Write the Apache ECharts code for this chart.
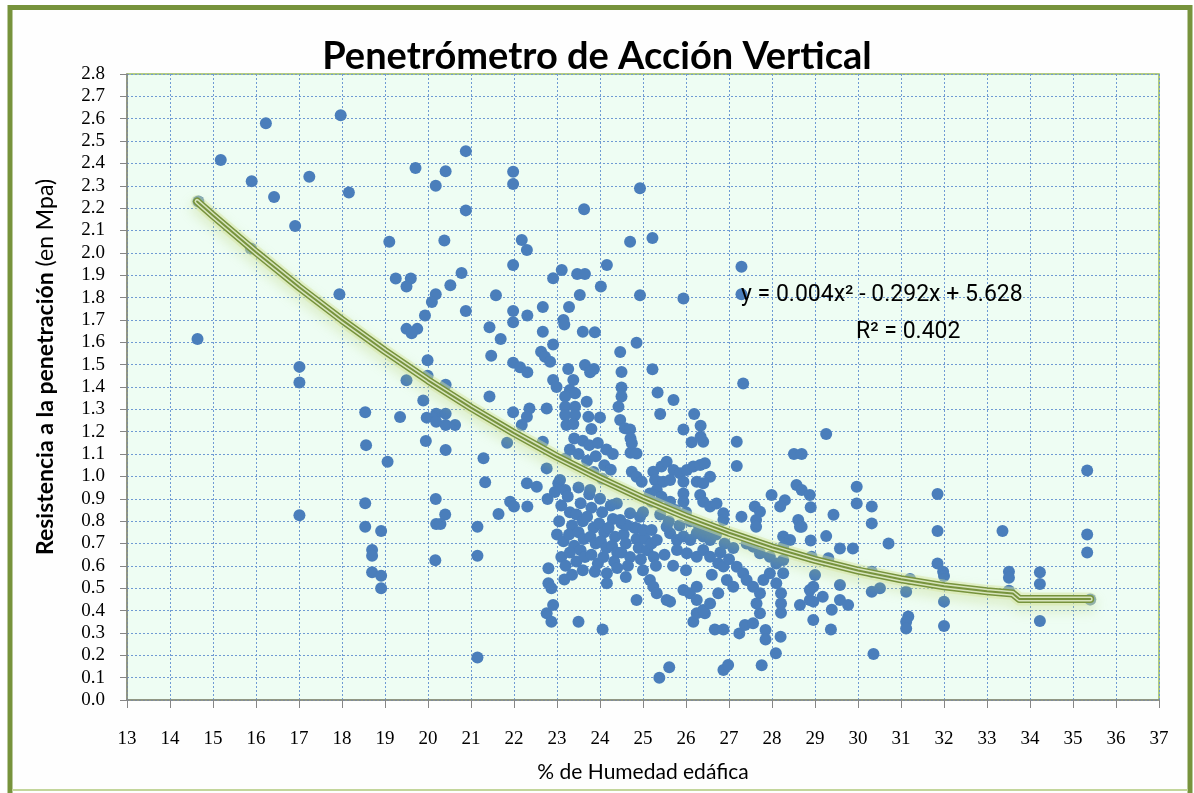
<!DOCTYPE html>
<html>
<head>
<meta charset="utf-8">
<script src="https://cdn.jsdelivr.net/npm/echarts@6/dist/echarts.min.js"></script>
<style>
  html, body { margin: 0; padding: 0; background: #fff; }
  #chart { width: 1194px; height: 793px; }
</style>
</head>
<body>
<div id="chart"></div>
<script>
// Datos: [% humedad, resistencia MPa]
const puntosIzquierda = [
  [16.23,2.58],[17.97,2.615],[15.18,2.415],[15.9,2.32],[17.24,2.34],[16.42,2.25],[18.16,2.27],
  [14.66,2.23],[16.91,2.12],[15.88,2.02],[19.1,2.05],[20.38,2.055],[20.88,2.455],[19.71,2.38],
  [20.41,2.365],[20.18,2.30],[20.88,2.19],[17.94,1.815],[19.25,1.885],[19.6,1.885],[19.5,1.85],
  [20.78,1.91],[20.52,1.855],[20.18,1.815],[20.09,1.78],[19.93,1.72],[19.5,1.66],[19.75,1.66],
  [19.62,1.64],[20.88,1.74],[14.64,1.615],[17.01,1.49],[17.01,1.42],[19.99,1.52],[19.99,1.45],
  [19.5,1.43],[20.41,1.41],[19.89,1.34],[18.54,1.287],[19.35,1.266],[19.97,1.263],[20.19,1.28],
  [20.19,1.245],[20.41,1.28],[20.41,1.23],[20.63,1.23],[19.95,1.158],[20.41,1.118],[18.56,1.14],
  [19.06,1.066],[20.18,0.899],[18.54,0.88],[17.01,0.826],[20.4,0.83],[20.19,0.787],[20.29,0.787],
  [18.54,0.775],[18.91,0.756],[21.15,0.775],[18.7,0.671],[18.7,0.645],[20.17,0.625],[21.15,0.645],
  [18.7,0.571],[18.91,0.556],[18.91,0.50],[21.15,0.19]
];

const puntosCentroAlto = [
  [21.98,2.363],[21.98,2.308],[24.93,2.289],[23.63,2.195],[22.18,2.057],[22.3,2.013],[24.7,2.05],
  [25.22,2.066],[21.98,1.946],[23.11,1.923],[22.91,1.886],[23.47,1.905],[23.65,1.905],[24.16,1.946],
  [24.02,1.849],[23.53,1.812],[24.93,1.81],[25.94,1.796],[27.29,1.938],[27.29,1.815],[21.58,1.81],
  [21.98,1.74],[21.98,1.69],[22.31,1.72],[22.67,1.758],[23.28,1.758],[23.15,1.70],[23.17,1.68],
  [21.43,1.667],[21.69,1.615],[22.67,1.647],[23.6,1.647],[23.88,1.645],[22.91,1.59],[24.85,1.598],
  [21.47,1.54],[22.63,1.558],[22.72,1.535],[22.84,1.513],[21.98,1.509],[22.14,1.488],[22.31,1.466],
  [24.47,1.557],[23.26,1.48],[23.65,1.498],[23.86,1.48],[23.77,1.466],[24.5,1.467],[25.22,1.479],
  [22.91,1.431],[22.99,1.40],[23.38,1.431],[23.3,1.387],[23.19,1.357],[23.42,1.372],[24.5,1.398],
  [24.5,1.357],[24.43,1.312],[25.34,1.375],[25.71,1.342],[27.33,1.416],[21.43,1.357],[23.69,1.334],
  [23.19,1.312],[23.42,1.312],[23.19,1.275],[23.42,1.275],[22.36,1.304],[22.3,1.267],[22.76,1.304],
  [21.98,1.287],[23.73,1.267],[24.0,1.264],[25.4,1.279],[26.19,1.279],[24.47,1.252],[24.58,1.215],
  [24.7,1.21],[22.18,1.23],[23.22,1.23],[23.38,1.235],[23.8,1.212],[25.94,1.21],[26.34,1.227],
  [22.67,1.155],[21.84,1.151],[21.29,1.081],[24.71,1.17],[24.71,1.106],[26.13,1.153],[26.4,1.155],
  [26.34,1.178],[27.18,1.155],[27.18,1.047],[28.51,1.10],[28.69,1.10],[22.76,1.036],
  [23.4,1.17],[23.6,1.16],[23.75,1.14],[23.95,1.15],[24.15,1.12],[24.3,1.10],[23.5,1.10],
  [23.7,1.07],[23.9,1.09],[24.1,1.05],[24.25,1.03],[23.85,1.02],[24.05,0.99],[23.3,1.12],[23.2,1.08]
];

const puntosNucleo = [
  [24.74,1.148],[24.85,1.103],[24.74,1.021],[24.85,0.999],[24.97,0.976],
  [25.24,1.021],[25.43,1.044],[25.55,1.066],[25.71,1.029],[25.86,1.014],[26.02,1.029],[26.17,1.044],
  [26.33,1.051],[26.44,1.059],[26.56,0.999],[25.28,0.984],[25.47,0.976],[25.63,0.984],[25.94,0.976],
  [26.25,0.976],[26.4,0.969],[23.07,0.984],[23.77,0.939],[24.39,0.879],
  [25.16,0.924],[25.32,0.939],[25.43,0.909],[25.2,0.887],[25.63,0.887],[25.94,0.924],[25.94,0.887],
  [26.33,0.917],[26.4,0.887],[26.56,0.865],[26.71,0.879],[26.87,0.835],[26.87,0.805],[27.29,0.82],
  [27.6,0.865],[27.72,0.842],[27.63,0.805],[27.63,0.775],[27.99,0.917],[28.3,0.894],[28.19,0.865],
  [28.57,0.962],[28.61,0.805],[28.65,0.775],
  [21.33,0.974],[21.64,0.832],[21.91,0.887],[22.0,0.865],[22.31,0.865],[22.3,0.969],[22.53,0.954],
  [22.78,0.899],[23.03,0.969],[23.19,0.939],
  [22.8,0.589],[22.8,0.522],[22.87,0.50],[23.17,0.539],[22.76,0.388],[22.87,0.35],[22.91,0.425],
  [23.5,0.35],[24.06,0.315],[24.85,0.447],
  [25.38,0.10],[25.61,0.146],[26.87,0.134],[26.98,0.157],[27.76,0.155],[28.09,0.209],[28.2,0.283],
  [27.85,0.313],[27.85,0.271],[27.24,0.298],[27.37,0.335],[27.56,0.343],[26.67,0.315],[26.87,0.315],
  [26.17,0.35],[26.25,0.388],[26.44,0.388],[28.21,0.39],[28.21,0.432],[28.21,0.477],[27.72,0.388],
  [28.65,0.425],[28.88,0.447],
  [23.88,0.574],[24.16,0.567],[24.16,0.522],[25.16,0.537],[25.24,0.507],[25.32,0.477],[25.55,0.447],
  [25.63,0.44],[25.94,0.492],[26.09,0.477],[26.25,0.507],[26.25,0.447],[26.4,0.403],[26.56,0.432],
  [26.75,0.477],[26.95,0.537],[27.1,0.507],[27.18,0.596],[27.33,0.567],[27.41,0.537],[27.56,0.507],
  [27.72,0.477],[27.64,0.432],[27.8,0.537],[27.95,0.567],[28.1,0.522],
  [27.41,0.70],[27.56,0.686],[27.72,0.656],[27.95,0.641],[28.1,0.611],
  [28.26,0.731],[28.42,0.716],[28.26,0.686],[28.26,0.626],[28.26,0.567],
  // masa densa 23-25.3
  [22.95,0.93],[23.1,0.87],[23.05,0.80],[23.0,0.74],[23.15,0.71],[23.1,0.64],[23.2,0.60],
  [23.25,0.91],[23.3,0.84],[23.35,0.78],[23.28,0.74],[23.4,0.69],[23.3,0.66],[23.45,0.62],
  [23.5,0.95],[23.55,0.88],[23.45,0.83],[23.6,0.80],[23.5,0.75],[23.62,0.72],[23.55,0.67],[23.65,0.64],
  [23.75,0.92],[23.8,0.86],[23.7,0.82],[23.85,0.77],[23.78,0.73],[23.9,0.70],[23.8,0.65],[23.95,0.61],
  [24.0,0.90],[24.05,0.84],[23.98,0.79],[24.1,0.75],[24.02,0.71],[24.15,0.68],[24.08,0.64],
  [24.25,0.87],[24.3,0.81],[24.2,0.77],[24.35,0.73],[24.28,0.69],[24.4,0.66],[24.33,0.62],
  [24.5,0.79],[24.55,0.74],[24.6,0.70],[24.5,0.66],[24.7,0.64],[24.65,0.60],
  [24.8,0.77],[24.85,0.72],[24.9,0.68],[24.95,0.63],[25.05,0.72],[25.1,0.67],[25.2,0.70],[25.25,0.64],
  [23.35,0.56],[23.6,0.58],[24.4,0.59],[24.6,0.55],[25.0,0.58],[25.3,0.60],
  [24.62,0.783],[24.85,0.768],[25.01,0.76],[25.2,0.76],[24.7,0.835],[24.93,0.82],[24.47,0.805],
  // bajo la tendencia 25.5-27
  [25.63,0.746],[25.79,0.716],[25.94,0.731],[26.1,0.716],[26.25,0.746],[26.4,0.731],[26.56,0.716],
  [25.79,0.671],[26.02,0.656],[26.25,0.641],[26.4,0.671],[26.56,0.641],[26.75,0.612],[26.87,0.597],
  [25.55,0.775],[25.32,0.716],[25.5,0.65],[25.7,0.60],[26.0,0.58],[26.6,0.56],
  [25.0,0.84],[25.4,0.83],[25.6,0.80],[25.85,0.78],[26.1,0.80],[26.3,0.78],[26.0,0.84],[25.75,0.85],
  [26.5,0.76],[26.7,0.74],[26.9,0.70],[27.1,0.68],[27.0,0.63],[26.8,0.66]
];

const puntosDerecha = [
  [29.26,1.19],[28.69,0.939],[28.88,0.917],[28.9,0.862],[28.69,0.775],[29.26,0.733],[29.43,0.829],
  [28.9,0.713],[29.58,0.678],[29.88,0.678],[29.97,0.954],[29.97,0.879],[30.32,0.865],[30.32,0.79],
  [30.71,0.70],[28.92,0.641],[29.31,0.634],[29.0,0.559],[28.96,0.507],[28.88,0.492],[29.58,0.514],
  [28.96,0.44],[29.18,0.462],[29.58,0.447],[29.77,0.425],[29.39,0.404],[28.96,0.358],[29.37,0.315],
  [30.32,0.574],[30.32,0.484],[30.51,0.50],[30.36,0.206],[31.21,0.541],[31.12,0.484],[31.17,0.373],
  [31.12,0.35],[31.12,0.32],[31.85,0.921],[31.85,0.756],[31.85,0.611],[31.98,0.574],[32.0,0.555],
  [32.0,0.44],[32.0,0.331],[33.36,0.756],[33.51,0.574],[33.51,0.547],[33.51,0.489],[34.23,0.571],
  [34.23,0.519],[34.23,0.353],[35.33,1.026],[35.33,0.74],[35.33,0.66],[35.4,0.45]
];

// Línea de tendencia polinómica
const tendenciaX = [14.63,15,16,17,18,19,20,21,22,23,24,25,26,27,28,29,30,31,32,33,33.6,33.75,35.4];
const tendenciaY = [2.23,2.167,2.003,1.847,1.700,1.561,1.430,1.308,1.194,1.088,0.991,0.901,0.820,0.748,0.683,0.627,0.579,0.540,0.509,0.486,0.476,0.452,0.452];

const ecuacion = 'y = 0.004x² - 0.292x + 5.628';
const r2 = 'R² = 0.402';

const puntos = puntosIzquierda.concat(puntosCentroAlto, puntosNucleo, puntosDerecha);
const tendencia = tendenciaX.map((x, i) => [x, tendenciaY[i]]);

const chart = echarts.init(document.getElementById('chart'));

const olive = '#77933C';
const pale = '#D7E4BD';

function trendLayer(width, color, extra) {
  return {
    type: 'line',
    data: tendencia,
    symbol: 'none',
    smooth: false,
    silent: true,
    lineStyle: Object.assign({ width: width, color: color, cap: 'round', join: 'round' }, extra || {})
  };
}

chart.setOption({
  animation: false,
  backgroundColor: '#fff',
  title: {
    text: 'Penetrómetro de Acción Vertical',
    left: 'center',
    top: 33,
    textStyle: { fontFamily: 'Lato', fontWeight: 'bold', fontSize: 38, color: '#000' }
  },
  graphic: [
    { type: 'rect', z: -10, shape: { x: 10, y: 7.5, width: 1180, height: 800 },
      style: { fill: '#FEFEFE', stroke: olive, lineWidth: 5 } },
    { type: 'line', z: -9, shape: { x1: 12, y1: 790, x2: 1188, y2: 790 },
      style: { stroke: '#C3D69B', lineWidth: 2 } },
    { type: 'text', z: 100, left: 741, top: 284,
      style: { text: ecuacion, font: '23px Roboto', fill: '#000' } },
    { type: 'text', z: 100, left: 856, top: 321,
      style: { text: r2, font: '23px Roboto', fill: '#000' } }
  ],
  grid: {
    left: 127, top: 74, right: 35, bottom: 93,
    show: true,
    backgroundColor: '#EEFDF3',
    borderColor: '#9BBB59',
    borderWidth: 1.5,
    containLabel: false,
    outerBoundsMode: 'none'
  },
  xAxis: {
    type: 'value',
    min: 13, max: 37, interval: 1,
    name: '% de Humedad edáfica',
    nameLocation: 'middle',
    nameGap: 62,
    nameTextStyle: { fontFamily: 'Lato', fontSize: 21, color: '#000' },
    axisLine: { show: true, onZero: false, lineStyle: { color: '#868686', width: 1.5 } },
    axisTick: { show: true, length: 8, lineStyle: { color: '#868686' } },
    axisLabel: { margin: 30, fontFamily: 'Liberation Serif', fontSize: 19, color: '#000' },
    splitLine: { show: true, lineStyle: { color: '#6F9AD3', type: [2, 2], width: 1 } }
  },
  yAxis: {
    type: 'value',
    min: 0, max: 2.8, interval: 0.1,
    name: '{b|Resistencia a la penetración} {n|(en Mpa)}',
    nameLocation: 'middle',
    nameGap: 70,
    nameRotate: 90,
    nameTextStyle: {
      fontFamily: 'Lato', fontSize: 23, color: '#000',
      padding: [0, 0, 0, 40],
      rich: {
        b: { fontFamily: 'Lato', fontWeight: 'bold', fontSize: 23, color: '#000' },
        n: { fontFamily: 'Lato', fontWeight: 'normal', fontSize: 23, color: '#000' }
      }
    },
    axisLine: { show: true, lineStyle: { color: '#868686', width: 1.5 } },
    axisTick: { show: true, length: 7, lineStyle: { color: '#868686' } },
    axisLabel: {
      margin: 22, fontFamily: 'Liberation Serif', fontSize: 19, color: '#000',
      formatter: v => v.toFixed(1)
    },
    splitLine: { show: true, lineStyle: { color: '#6F9AD3', type: [2, 2], width: 1 } }
  },
  series: [
    {
      type: 'scatter',
      data: puntos,
      symbol: 'circle',
      symbolSize: 12,
      itemStyle: { color: '#4A7EBB', opacity: 1 },
      silent: true
    },
    trendLayer(13, 'rgba(215,228,160,0.45)', { shadowBlur: 12, shadowColor: 'rgba(175,200,90,0.6)', shadowOffsetY: 6 }),
    trendLayer(8, olive),
    trendLayer(5, pale),
    trendLayer(2, olive)
  ]
});
</script>
</body>
</html>
